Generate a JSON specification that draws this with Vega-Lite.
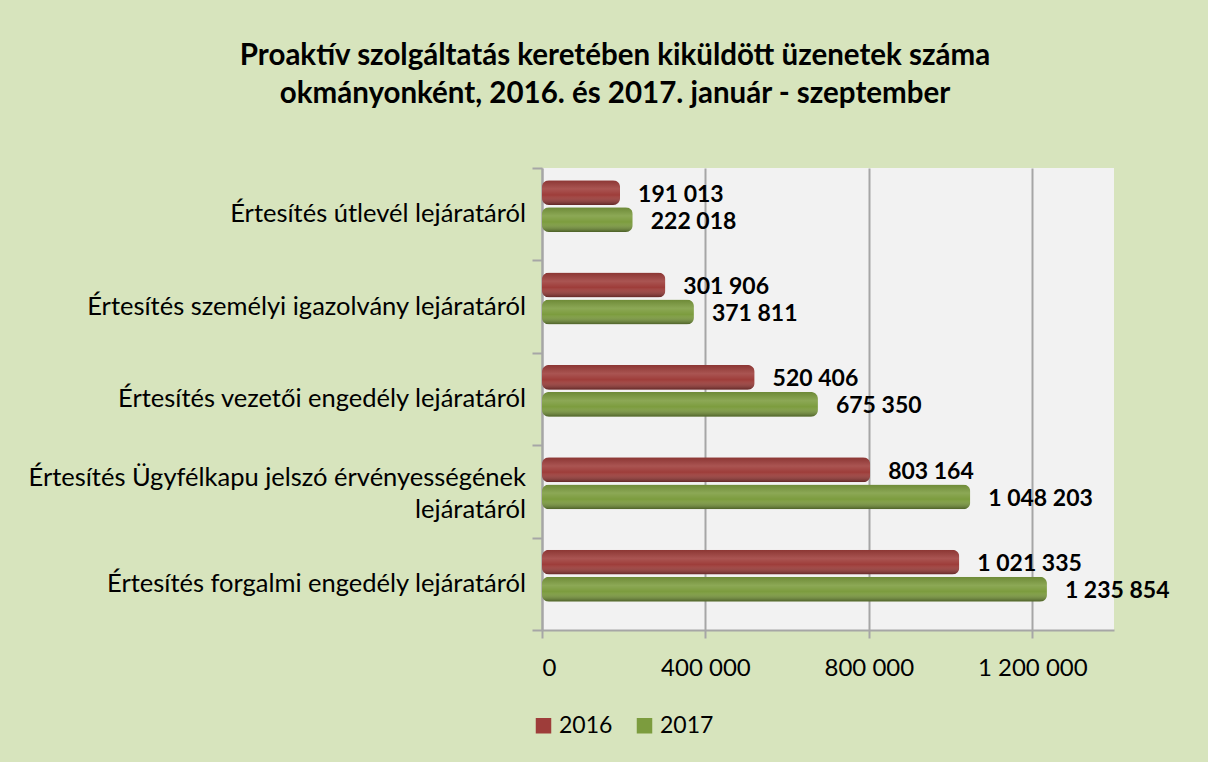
{
  "$schema": "https://vega.github.io/schema/vega-lite/v6.json",
  "width": 572,
  "height": 462,
  "autosize": {"type": "none"},
  "padding": {"left": 542, "top": 168, "right": 94, "bottom": 132},
  "background": "#D7E4BD",
  "config": {
    "locale": {"number": {"decimal": ",", "thousands": " ", "grouping": [3], "currency": ["", ""]}},
    "font": "Lato",
    "view": {"fill": "#F2F2F2", "stroke": null}
  },
  "title": {
    "text": ["Proaktív szolgáltatás keretében kiküldött üzenetek száma", "okmányonként, 2016. és 2017. január - szeptember"],
    "fontSize": 29.5,
    "fontWeight": "bold",
    "font": "Lato",
    "color": "#000000",
    "anchor": "middle",
    "dx": -213,
    "offset": 58,
    "lineHeight": 38
  },
  "data": {
    "values": [
      {"category": "Értesítés útlevél lejáratáról", "year": "2016", "value": 191013},
      {"category": "Értesítés útlevél lejáratáról", "year": "2017", "value": 222018},
      {"category": "Értesítés személyi igazolvány lejáratáról", "year": "2016", "value": 301906},
      {"category": "Értesítés személyi igazolvány lejáratáról", "year": "2017", "value": 371811},
      {"category": "Értesítés vezetői engedély lejáratáról", "year": "2016", "value": 520406},
      {"category": "Értesítés vezetői engedély lejáratáról", "year": "2017", "value": 675350},
      {"category": "Értesítés Ügyfélkapu jelszó érvényességének|lejáratáról", "year": "2016", "value": 803164},
      {"category": "Értesítés Ügyfélkapu jelszó érvényességének|lejáratáról", "year": "2017", "value": 1048203},
      {"category": "Értesítés forgalmi engedély lejáratáról", "year": "2016", "value": 1021335},
      {"category": "Értesítés forgalmi engedély lejáratáról", "year": "2017", "value": 1235854}
    ]
  },
  "encoding": {
    "y": {
      "field": "category",
      "type": "nominal",
      "sort": null,
      "scale": {"paddingInner": 0, "paddingOuter": 0},
      "axis": {
        "title": null,
        "labels": false,
        "tickBand": "extent",
        "tickColor": "#A6A6A6",
        "tickSize": 10,
        "tickWidth": 2,
        "domainColor": "#A6A6A6",
        "domainWidth": 2
      }
    },
    "x": {
      "field": "value",
      "type": "quantitative",
      "scale": {"domain": [0, 1400000], "nice": false},
      "axis": {
        "title": null,
        "values": [0, 400000, 800000, 1200000],
        "format": ",d",
        "grid": true,
        "gridColor": "#A6A6A6",
        "gridWidth": 2,
        "domainColor": "#A6A6A6",
        "domainWidth": 2,
        "tickColor": "#A6A6A6",
        "tickSize": 8,
        "tickWidth": 2,
        "labelFontSize": 24,
        "labelColor": "#000000",
        "labelPadding": 18
      }
    }
  },
  "layer": [
    {
      "mark": {"type": "bar", "cornerRadius": 7},
      "encoding": {
        "yOffset": {"field": "year", "type": "nominal", "scale": {"paddingInner": 0.08, "paddingOuter": 0.75, "align": 0.3}},
        "color": {
          "field": "year",
          "type": "nominal",
          "scale": {"domain": ["2016", "2017"], "range": ["#9E3D3A", "#7C9C3E"]},
          "legend": {
            "title": null,
            "orient": "none",
            "legendX": -10,
            "legendY": 546,
            "direction": "horizontal",
            "symbolType": "square",
            "symbolSize": 240,
            "symbolStrokeWidth": 0,
            "labelFontSize": 23,
            "labelColor": "#000000",
            "columnPadding": 20
          }
        }
      }
    },
    {
      "mark": {
        "type": "bar",
        "cornerRadius": 7,
        "color": {
          "gradient": "linear",
          "x1": 0, "y1": 0, "x2": 0, "y2": 1,
          "stops": [
            {"offset": 0, "color": "rgba(0,0,0,0.12)"},
            {"offset": 0.35, "color": "rgba(255,255,255,0.12)"},
            {"offset": 0.6, "color": "rgba(255,255,255,0.0)"},
            {"offset": 1, "color": "rgba(0,0,0,0.4)"}
          ]
        }
      },
      "encoding": {
        "yOffset": {"field": "year", "type": "nominal"}
      }
    },
    {
      "mark": {"type": "text", "align": "left", "baseline": "middle", "dx": 18, "dy": 2, "fontSize": 23, "fontWeight": "bold", "color": "#000000"},
      "encoding": {
        "yOffset": {"field": "year", "type": "nominal"},
        "text": {"field": "value", "type": "quantitative", "format": ",d"}
      }
    },
    {
      "transform": [{"filter": "datum.year == '2016' && indexof(datum.category, '|') < 0"}],
      "mark": {"type": "text", "align": "right", "baseline": "middle", "dx": -16, "fontSize": 25.5, "color": "#000000"},
      "encoding": {
        "x": {"datum": 0},
        "text": {"field": "category", "type": "nominal"}
      }
    },
    {
      "transform": [{"filter": "datum.year == '2016' && indexof(datum.category, '|') >= 0"}],
      "mark": {"type": "text", "align": "right", "baseline": "middle", "dx": -16, "dy": -13, "lineBreak": "|", "lineHeight": 32, "fontSize": 25.5, "color": "#000000"},
      "encoding": {
        "x": {"datum": 0},
        "text": {"field": "category", "type": "nominal"}
      }
    }
  ]
}
